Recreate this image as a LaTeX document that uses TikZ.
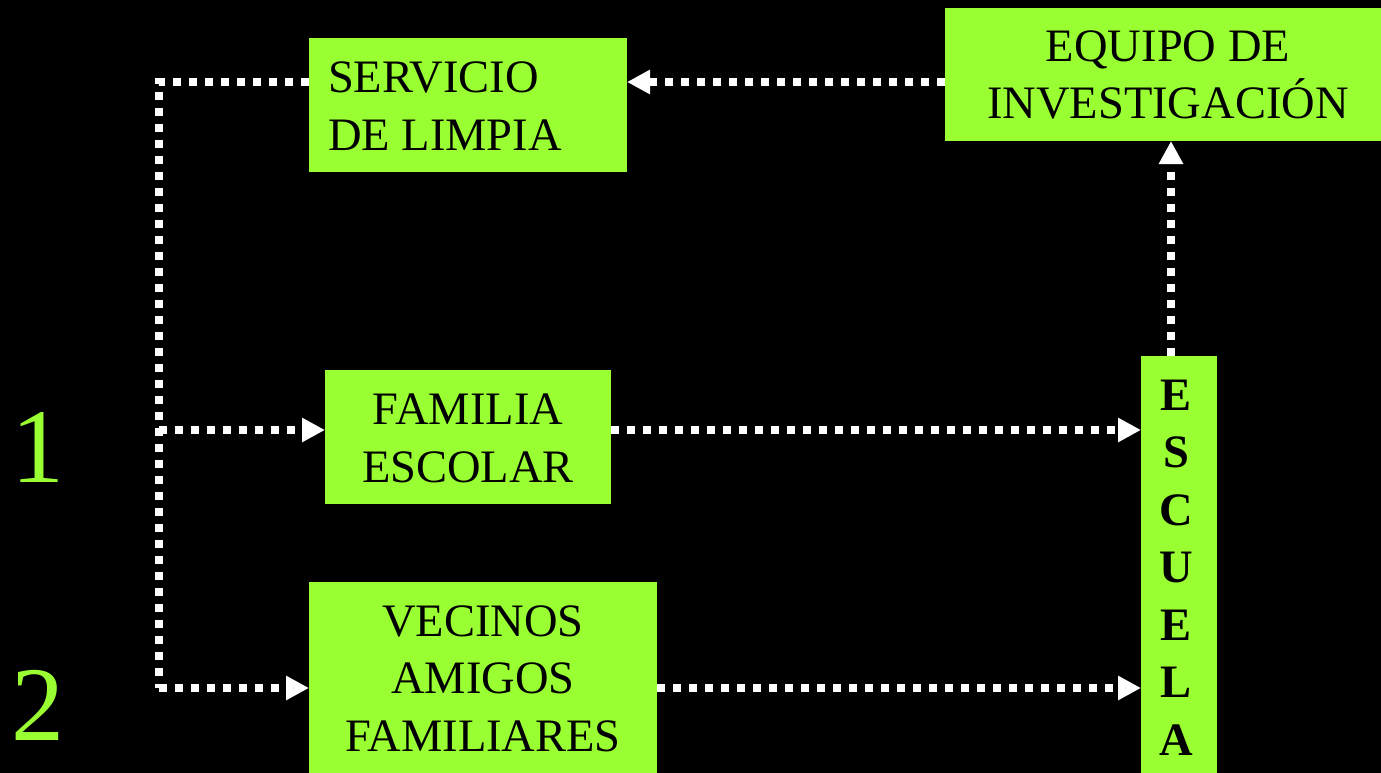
\documentclass[tikz,border=0pt]{standalone}
\usepackage{fontspec}
\setmainfont{Liberation Serif}
\usetikzlibrary{arrows.meta}
\definecolor{boxgreen}{HTML}{99FF33}
\tikzset{
  box/.style={fill=boxgreen, draw=none, inner sep=0pt, outer sep=0pt, rectangle},
  txt/.style={inner sep=0pt, outer sep=0pt, text=black, font=\fontsize{46.5}{57.5}\selectfont},
  vtxt/.style={inner sep=0pt, outer sep=0pt, text=black, font=\fontsize{46.5}{57.5}\selectfont\bfseries, anchor=base},
  num/.style={inner sep=0pt, outer sep=0pt, text=boxgreen, font=\fontsize{106}{110}\selectfont, anchor=base},
  flow/.style={draw=white, line width=8pt, dash pattern=on 8pt off 8pt, line cap=butt},
  arr/.style={-{Triangle[length=23pt,width=23pt]}},
}
\begin{document}
\begin{tikzpicture}[x=1pt,y=-1pt]
\useasboundingbox (0,0) rectangle (1381,773);
\fill[black] (0,0) rectangle (1381,773);

% boxes
\node[box, minimum width=318pt, minimum height=134pt] (serv) at (468,105) {};
\node[box, minimum width=436pt, minimum height=133pt] (equipo) at (1163,74.5) {};
\node[box, minimum width=286pt, minimum height=134pt] (fam) at (468,437) {};
\node[box, minimum width=348pt, minimum height=191pt] (vec) at (483,677.5) {};
\node[box, minimum width=76pt, minimum height=417pt] (esc) at (1179,564.5) {};

% texts
\node[txt, anchor=base west] (servA) at (328,93) {SERVICIO};
\node[txt, anchor=base west] (servB) at (328,150) {DE LIMPIA};
\node[txt, anchor=base] (eqA) at (1168,62) {EQUIPO DE};
\node[txt, anchor=base] (eqB) at (1168,119) {INVESTIGACIÓN};
\node[txt, anchor=base] (famA) at (468,424) {FAMILIA};
\node[txt, anchor=base] (famB) at (468,482) {ESCOLAR};
\node[txt, anchor=base] (vecA) at (483,636) {VECINOS};
\node[txt, anchor=base] (vecB) at (483,693) {AMIGOS};
\node[txt, anchor=base] (vecC) at (483,751) {FAMILIARES};

\node[vtxt] (e1) at (1176,410) {E};
\node[vtxt] (e2) at (1176,467.5) {S};
\node[vtxt] (e3) at (1176,525) {C};
\node[vtxt] (e4) at (1176,582.5) {U};
\node[vtxt] (e5) at (1176,640) {E};
\node[vtxt] (e6) at (1176,697.5) {L};
\node[vtxt] (e7) at (1176,755) {A};

\node[num] (n1) at (38,482) {1};
\node[num] (n2) at (38,740) {2};

% connector coordinates
\coordinate (j1) at (159,82);
\coordinate (j2) at (159,430);
\coordinate (j3) at (159,688);
\coordinate (j4) at (1171,300);

% connectors
\draw[flow, arr] (equipo.west |- j1) -- (serv.east |- j1);
\draw[flow] (serv.west |- j1) -- (j1) -- (j3);
\draw[flow, arr] (j2) -- (fam.west |- j2);
\draw[flow, arr] (j3) -- (vec.west |- j3);
\draw[flow, arr] (fam.east |- j2) -- (esc.west |- j2);
\draw[flow, arr] (vec.east |- j3) -- (esc.west |- j3);
\draw[flow, arr] (esc.north -| j4) -- (equipo.south -| j4);
\end{tikzpicture}
\end{document}
